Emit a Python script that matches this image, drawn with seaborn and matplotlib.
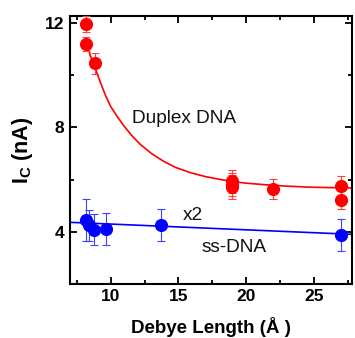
import matplotlib
matplotlib.use("Agg")
import matplotlib.pyplot as plt
import seaborn as sns
import pandas as pd
from matplotlib.ticker import MultipleLocator

sns.set_theme(style="ticks")
plt.rcParams['font.family'] = ['Liberation Sans', 'DejaVu Sans']
plt.rcParams['mathtext.fontset'] = 'custom'
plt.rcParams['mathtext.rm'] = 'Liberation Sans:bold'
plt.rcParams['mathtext.it'] = 'Liberation Sans:bold'
plt.rcParams['mathtext.bf'] = 'Liberation Sans:bold'
plt.rcParams['mathtext.default'] = 'rm'
plt.rcParams['text.color'] = 'black'
plt.rcParams['axes.labelcolor'] = 'black'
plt.rcParams['xtick.color'] = 'black'
plt.rcParams['ytick.color'] = 'black'

# Duplex DNA data
dup_x = [8.2, 8.2, 8.85, 18.95, 18.95, 18.95, 21.95, 27.0, 27.0]
dup_y = [11.95, 11.2, 10.45, 5.93, 5.8, 5.72, 5.63, 5.75, 5.21]
dup_err = [0.3, 0.28, 0.4, 0.45, 0.45, 0.45, 0.38, 0.4, 0.35]

# ss-DNA data (x2)
ss_x = [8.17, 8.41, 8.75, 9.68, 13.7, 27.0]
ss_y = [4.46, 4.24, 4.08, 4.1, 4.26, 3.87]
ss_err = [0.8, 0.6, 0.6, 0.6, 0.6, 0.6]

# fitted curves
dup_fit_x = [8.2, 8.5, 8.9, 9.27, 9.6, 10.0, 10.5, 11.0, 11.6, 12.2, 13.0, 13.9,
             14.8, 15.9, 17.0, 18.1, 19.0, 20.0, 21.4, 22.9, 24.5, 26.1, 27.8]
dup_fit_y = [11.3, 10.75, 10.2, 9.69, 9.25, 8.8, 8.4, 8.04, 7.66, 7.34, 7.0, 6.7,
             6.46, 6.26, 6.11, 6.0, 5.92, 5.86, 5.8, 5.75, 5.71, 5.69, 5.68]
ss_fit_x = [7.0, 27.8]
ss_fit_y = [4.36, 3.9]

red = '#ff0000'
blue = '#0000ff'

fig = plt.figure(figsize=(3.55, 3.38), dpi=100)
ax = fig.add_axes([0.197, 0.16, 0.795, 0.793])

df_dup = pd.DataFrame({'x': dup_x, 'y': dup_y})
df_ss = pd.DataFrame({'x': ss_x, 'y': ss_y})
df_dfit = pd.DataFrame({'x': dup_fit_x, 'y': dup_fit_y})
df_sfit = pd.DataFrame({'x': ss_fit_x, 'y': ss_fit_y})

sns.lineplot(data=df_dfit, x='x', y='y', ax=ax, color=red, lw=1.2, sort=False, zorder=2)
sns.lineplot(data=df_sfit, x='x', y='y', ax=ax, color=blue, lw=1.2, sort=False, zorder=2)

ax.errorbar(dup_x, dup_y, yerr=dup_err, fmt='none', ecolor='#ff4040', elinewidth=0.8,
            capsize=3, capthick=0.8, zorder=3)
ax.errorbar(ss_x, ss_y, yerr=ss_err, fmt='none', ecolor='#4040ff', elinewidth=0.8,
            capsize=3, capthick=0.8, zorder=3)

sns.scatterplot(data=df_dup, x='x', y='y', ax=ax, color=red, s=90, edgecolor=red,
                linewidth=0, zorder=4)
sns.scatterplot(data=df_ss, x='x', y='y', ax=ax, color=blue, s=90, edgecolor=blue,
                linewidth=0, zorder=4)

ax.set_xlim(7.0, 27.8)
ax.set_ylim(2.0, 12.27)
ax.xaxis.set_major_locator(MultipleLocator(5))
ax.xaxis.set_minor_locator(MultipleLocator(2.5))
ax.yaxis.set_major_locator(MultipleLocator(4))
ax.yaxis.set_minor_locator(MultipleLocator(2))

ax.tick_params(which='both', direction='in', top=True, right=True, width=1.3,
               labelsize=12.5, pad=4, colors='black')
ax.tick_params(which='major', length=5)
ax.tick_params(which='minor', length=3)
for lab in ax.get_xticklabels() + ax.get_yticklabels():
    lab.set_fontweight('bold')
for sp in ax.spines.values():
    sp.set_linewidth(1.5)
    sp.set_color('black')

ax.set_xlabel('Debye Length (Å )', fontsize=13.5, fontweight='bold', labelpad=9,
              color='black')
ax.set_ylabel('I$_{C}$ (nA)', fontsize=15.5, fontweight='bold', labelpad=7,
              color='black')

fig_h = 338
def txt(xp, yp_base, s):
    fig.text(xp / 355, 1 - yp_base / fig_h, s, fontsize=13.7, ha='left', va='baseline',
             color='#111111')

txt(131.5, 123.3, 'Duplex DNA')
txt(182.5, 220, 'x2')
txt(202, 251.7, 'ss-DNA')

fig.savefig('out.png', dpi=100)
